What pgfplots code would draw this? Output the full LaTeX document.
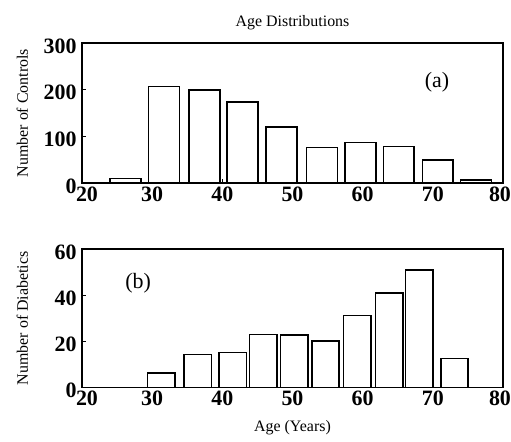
\documentclass[border=0pt]{standalone}
\usepackage{pgfplots}
\pgfplotsset{compat=1.18}
\usepackage{fontspec}
\setmainfont{Liberation Serif}

\pgfplotsset{
  agepanel/.style={
    scale only axis,
    width=421bp,
    xmin=20, xmax=80, ymin=0,
    xtick={20,30,...,80},
    % first and last labels pushed inward, as in the original
    xticklabels={\kern10bp 20,30,40,50,60,70,80\kern6bp},
    axis line style={line width=1.6bp},
    tick style={black, line width=1.2bp},
    xtick pos=bottom, ytick pos=left,
    tick align=inside,
    major tick length=4bp,
    /pgf/number format/assume math mode=true,
    tick label style={font=\fontsize{22}{22}\selectfont\bfseries},
    xticklabel style={yshift=0bp},
    yticklabel style={xshift=-2bp, yshift=-3bp},
    ylabel style={at={(axis description cs:-0.142,0.5)}, anchor=center,
      font=\fontsize{16}{16}\selectfont},
  },
  agebar/.style={ybar, bar shift=0pt, fill=white, draw=black, line width=1.6bp},
}

\begin{document}
\begin{tikzpicture}
  \useasboundingbox (-82bp,-259bp) rectangle (429bp,183bp);
  % (a) controls
  \begin{axis}[agepanel, height=140bp, ymax=300,
      ytick={0,100,200,300},
      ylabel={Number of Controls},
      title={Age Distributions},
      title style={font=\fontsize{16}{16}\selectfont, yshift=4bp}]
    \addplot[agebar, bar width=4.4] coordinates {
      (26.2,10) (31.7,207) (37.45,199) (42.85,173) (48.4,120)
      (54.2,76) (59.7,87) (65.15,78) (70.7,49) (76.15,7)
    };
    \node[font=\fontsize{22}{22}\selectfont] at (axis cs:70.6,216) {(a)};
  \end{axis}

  % (b) diabetics
  \begin{axis}[agepanel, at={(0,-66bp)}, anchor=north west,
      height=138.5bp, ymax=60,
      ytick={0,20,40,60},
      ylabel={Number of Diabetics},
      xlabel={Age (Years)},
      xlabel style={font=\fontsize{16}{16}\selectfont, yshift=-8bp}]
    \addplot[agebar, bar width=3.9] coordinates {
      (31.3,6.4) (36.5,14.3) (41.5,15.2) (45.85,23) (50.25,22.7)
      (54.7,20.2) (59.2,31.2) (63.8,40.9) (68.05,50.9) (73.1,12.6)
    };
    \node[font=\fontsize{22}{22}\selectfont] at (axis cs:28,45) {(b)};
  \end{axis}
\end{tikzpicture}
\end{document}
